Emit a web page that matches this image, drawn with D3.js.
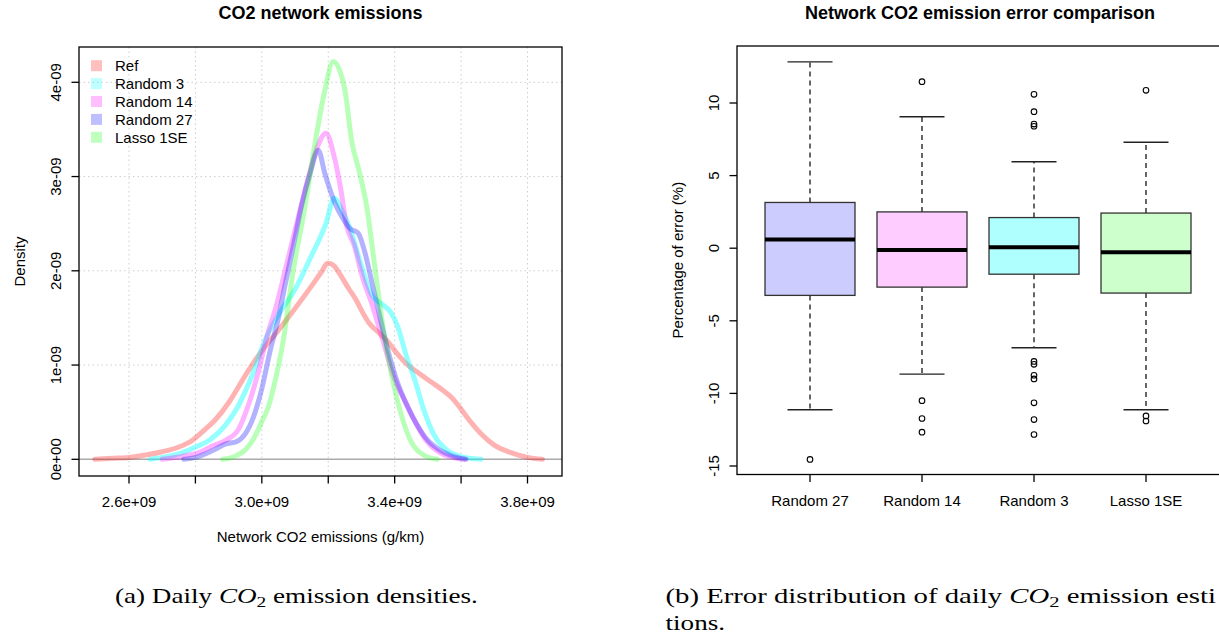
<!DOCTYPE html>
<html><head><meta charset="utf-8">
<script src="https://cdn.jsdelivr.net/npm/d3@7"></script>
<style>
body{margin:0;background:#fff}
svg{display:block}
text{font-family:"Liberation Sans",Arial,sans-serif;fill:#000}
</style>
</head><body>
<svg id="c" width="1219" height="639"></svg>
<script>
// ---------------- DATA ----------------
const seriesNames  = ["Ref", "Random 3", "Random 14", "Random 27", "Lasso 1SE"];
const seriesColors = ["#ff0000", "#00ffff", "#ff00ff", "#0000ff", "#00ff00"];
const seriesAlpha  = [0.3, 0.42, 0.3, 0.3, 0.28];

// density curves: [emissions (g/km), density]
const densRef = [[2.497e9,0],[2.55e9,0.01e-9],[2.60e9,0.02e-9],[2.65e9,0.045e-9],[2.70e9,0.08e-9],[2.75e9,0.13e-9],[2.79e9,0.20e-9],[2.83e9,0.32e-9],[2.86e9,0.42e-9],[2.90e9,0.60e-9],[2.94e9,0.83e-9],[2.97e9,1.00e-9],[3.00e9,1.15e-9],[3.05e9,1.37e-9],[3.10e9,1.60e-9],[3.15e9,1.84e-9],[3.18e9,1.99e-9],[3.198e9,2.08e-9],[3.215e9,2.06e-9],[3.234e9,1.97e-9],[3.26e9,1.82e-9],[3.284e9,1.69e-9],[3.30e9,1.58e-9],[3.324e9,1.44e-9],[3.35e9,1.35e-9],[3.374e9,1.27e-9],[3.415e9,1.09e-9],[3.44e9,1.00e-9],[3.474e9,0.91e-9],[3.51e9,0.82e-9],[3.544e9,0.735e-9],[3.57e9,0.66e-9],[3.594e9,0.56e-9],[3.615e9,0.46e-9],[3.635e9,0.37e-9],[3.66e9,0.27e-9],[3.70e9,0.15e-9],[3.75e9,0.07e-9],[3.80e9,0.02e-9],[3.845e9,0]];
const densRandom3 = [[2.664e9,0],[2.70e9,0.02e-9],[2.752e9,0.06e-9],[2.80e9,0.13e-9],[2.843e9,0.205e-9],[2.89e9,0.36e-9],[2.928e9,0.56e-9],[2.973e9,0.91e-9],[3.008e9,1.25e-9],[3.053e9,1.55e-9],[3.098e9,1.79e-9],[3.148e9,2.15e-9],[3.193e9,2.50e-9],[3.218e9,2.77e-9],[3.24e9,2.65e-9],[3.265e9,2.45e-9],[3.30e9,2.05e-9],[3.33e9,1.75e-9],[3.36e9,1.65e-9],[3.39e9,1.55e-9],[3.41e9,1.40e-9],[3.435e9,1.10e-9],[3.46e9,0.85e-9],[3.49e9,0.50e-9],[3.52e9,0.25e-9],[3.56e9,0.09e-9],[3.61e9,0.02e-9],[3.66e9,0]];
const densRandom14 = [[2.70e9,0],[2.76e9,0.03e-9],[2.81e9,0.07e-9],[2.85e9,0.14e-9],[2.893e9,0.205e-9],[2.93e9,0.32e-9],[2.958e9,0.56e-9],[2.988e9,0.91e-9],[3.013e9,1.27e-9],[3.043e9,1.62e-9],[3.068e9,1.97e-9],[3.093e9,2.33e-9],[3.118e9,2.68e-9],[3.143e9,3.03e-9],[3.168e9,3.32e-9],[3.193e9,3.46e-9],[3.218e9,3.21e-9],[3.238e9,2.86e-9],[3.254e9,2.50e-9],[3.28e9,2.25e-9],[3.30e9,1.97e-9],[3.334e9,1.62e-9],[3.364e9,1.27e-9],[3.394e9,0.91e-9],[3.439e9,0.56e-9],[3.494e9,0.205e-9],[3.554e9,0.04e-9],[3.61e9,0]];
const densRandom27 = [[2.765e9,0],[2.80e9,0.02e-9],[2.85e9,0.09e-9],[2.89e9,0.16e-9],[2.925e9,0.19e-9],[2.95e9,0.27e-9],[2.975e9,0.45e-9],[3.00e9,0.75e-9],[3.025e9,1.15e-9],[3.05e9,1.50e-9],[3.07e9,1.85e-9],[3.10e9,2.35e-9],[3.12e9,2.70e-9],[3.145e9,3.03e-9],[3.17e9,3.28e-9],[3.19e9,3.03e-9],[3.22e9,2.72e-9],[3.245e9,2.55e-9],[3.265e9,2.45e-9],[3.29e9,2.40e-9],[3.31e9,2.20e-9],[3.33e9,1.90e-9],[3.355e9,1.52e-9],[3.38e9,1.15e-9],[3.41e9,0.80e-9],[3.44e9,0.55e-9],[3.465e9,0.38e-9],[3.50e9,0.20e-9],[3.535e9,0.10e-9],[3.57e9,0.04e-9],[3.615e9,0]];
const densLasso = [[2.882e9,0],[2.918e9,0.03e-9],[2.95e9,0.10e-9],[2.973e9,0.205e-9],[3.00e9,0.40e-9],[3.02e9,0.56e-9],[3.045e9,0.91e-9],[3.065e9,1.27e-9],[3.093e9,1.97e-9],[3.13e9,2.68e-9],[3.162e9,3.39e-9],[3.19e9,3.92e-9],[3.215e9,4.22e-9],[3.25e9,3.92e-9],[3.27e9,3.39e-9],[3.295e9,3.03e-9],[3.315e9,2.70e-9],[3.34e9,2.05e-9],[3.365e9,1.40e-9],[3.385e9,1.00e-9],[3.41e9,0.60e-9],[3.445e9,0.22e-9],[3.49e9,0.04e-9],[3.528e9,0]];
const densities = [densRef, densRandom3, densRandom14, densRandom27, densLasso];

const densityXTicks  = [2.6e9, 2.8e9, 3.0e9, 3.2e9, 3.4e9, 3.6e9, 3.8e9];
const densityXLabels = ["2.6e+09", "", "3.0e+09", "", "3.4e+09", "", "3.8e+09"];
const densityYTicks  = [0, 1e-9, 2e-9, 3e-9, 4e-9];
const densityYLabels = ["0e+00", "1e-09", "2e-09", "3e-09", "4e-09"];

// boxplot of percentage errors
const boxCategories = ["Random 27", "Random 14", "Random 3", "Lasso 1SE"];
const boxFills      = ["#ccccff", "#ffccff", "#b0ffff", "#ccffcc"];
const whiskerLow    = [-11.13, -8.67, -6.86, -11.13];
const quartile1     = [-3.25, -2.68, -1.79, -3.09];
const medians       = [0.60, -0.12, 0.07, -0.28];
const quartile3     = [3.15, 2.50, 2.11, 2.42];
const whiskerHigh   = [12.83, 9.05, 5.95, 7.30];
const outliers = [
  [-14.55],
  [11.47, -10.50, -11.73, -12.67],
  [10.60, 9.40, 8.55, 8.40, -7.80, -8.00, -8.75, -9.00, -10.65, -11.80, -12.83],
  [10.87, -11.55, -11.90]
];
const errorTicks = [-15, -10, -5, 0, 5, 10];

// ---------------- DRAW ----------------
const svg = d3.select("#c");
svg.append("rect").attr("width",1219).attr("height",639).attr("fill","#fff");
const TL = 7.5; // tick length

// ===== Left panel: density =====
const L = {x0:79, x1:562, y0:47, y1:476};
const xD = d3.scaleLinear().domain([2.6e9, 3.8e9]).range([129, 527.5]);
const yD = d3.scaleLinear().domain([0, 4e-9]).range([459.3, 82.3]);

const gL = svg.append("g");
gL.selectAll(".gx").data(densityXTicks).join("line")
  .attr("x1",d=>xD(d)).attr("x2",d=>xD(d)).attr("y1",L.y0).attr("y2",L.y1)
  .attr("stroke","#cfcfcf").attr("stroke-width",1).attr("stroke-dasharray","1.5,3");
gL.selectAll(".gy").data(densityYTicks).join("line")
  .attr("x1",L.x0).attr("x2",L.x1).attr("y1",d=>yD(d)).attr("y2",d=>yD(d))
  .attr("stroke","#cfcfcf").attr("stroke-width",1).attr("stroke-dasharray","1.5,3");
gL.append("line").attr("x1",L.x0).attr("x2",L.x1).attr("y1",yD(0)).attr("y2",yD(0))
  .attr("stroke","#ababab").attr("stroke-width",1.5);

const lineGen = d3.line().x(d=>xD(d[0])).y(d=>yD(d[1])).curve(d3.curveMonotoneX);
densities.forEach((dat,i)=>{
  gL.append("path").attr("d",lineGen(dat)).attr("fill","none")
    .attr("stroke",seriesColors[i]).attr("stroke-opacity",seriesAlpha[i])
    .attr("stroke-width",5).attr("stroke-linejoin","round").attr("stroke-linecap","round");
});

gL.append("rect").attr("x",L.x0).attr("y",L.y0).attr("width",L.x1-L.x0).attr("height",L.y1-L.y0)
  .attr("fill","none").attr("stroke","#000").attr("stroke-width",1.3);

gL.selectAll(".tx").data(densityXTicks).join("line")
  .attr("x1",d=>xD(d)).attr("x2",d=>xD(d)).attr("y1",L.y1).attr("y2",L.y1+TL)
  .attr("stroke","#000").attr("stroke-width",1.3);
gL.selectAll(".lx").data(densityXTicks).join("text")
  .attr("x",d=>xD(d)).attr("y",L.y1+31).attr("text-anchor","middle").attr("font-size",15)
  .text((d,i)=>densityXLabels[i]);
gL.selectAll(".ty").data(densityYTicks).join("line")
  .attr("x1",L.x0-TL).attr("x2",L.x0).attr("y1",d=>yD(d)).attr("y2",d=>yD(d))
  .attr("stroke","#000").attr("stroke-width",1.3);
gL.selectAll(".ly").data(densityYTicks).join("text")
  .attr("transform",d=>`translate(${L.x0-18},${yD(d)}) rotate(-90)`)
  .attr("text-anchor","middle").attr("font-size",15)
  .text((d,i)=>densityYLabels[i]);
gL.append("text").attr("x",(L.x0+L.x1)/2).attr("y",19).attr("text-anchor","middle")
  .attr("font-size",18).attr("font-weight","bold").text("CO2 network emissions");
gL.append("text").attr("x",(L.x0+L.x1)/2).attr("y",542).attr("text-anchor","middle")
  .attr("font-size",15).text("Network CO2 emissions (g/km)");
gL.append("text").attr("transform",`translate(${L.x0-54},${(L.y0+L.y1)/2}) rotate(-90)`)
  .attr("text-anchor","middle").attr("font-size",15).text("Density");

const leg = gL.append("g");
seriesNames.forEach((n,i)=>{
  const cy = 65.7 + i*17.9;
  leg.append("rect").attr("x",91).attr("y",cy-5.5).attr("width",11).attr("height",11)
    .attr("fill",seriesColors[i]).attr("fill-opacity",0.25);
  leg.append("text").attr("x",115).attr("y",cy).attr("dy","0.36em").attr("font-size",15).text(n);
});

// ===== Right panel: boxplot =====
const R = {x0:737, x1:1221.5, y0:46, y1:474.5};
const yE = d3.scaleLinear().domain([-15, 10]).range([466, 103]);
const xE = d3.scalePoint().domain(boxCategories).range([810, 1146]);
const half = 45, stapleHalf = 22.5;

const gR = svg.append("g");
boxCategories.forEach((c,i)=>{
  const cx = xE(c);
  gR.append("line").attr("x1",cx).attr("x2",cx).attr("y1",yE(quartile3[i])).attr("y2",yE(whiskerHigh[i]))
    .attr("stroke","#000").attr("stroke-width",1.2).attr("stroke-dasharray","5,4");
  gR.append("line").attr("x1",cx).attr("x2",cx).attr("y1",yE(quartile1[i])).attr("y2",yE(whiskerLow[i]))
    .attr("stroke","#000").attr("stroke-width",1.2).attr("stroke-dasharray","5,4");
  [whiskerHigh[i], whiskerLow[i]].forEach(v=>{
    gR.append("line").attr("x1",cx-stapleHalf).attr("x2",cx+stapleHalf).attr("y1",yE(v)).attr("y2",yE(v))
      .attr("stroke","#222").attr("stroke-width",1.4);
  });
  gR.append("rect").attr("x",cx-half).attr("width",2*half)
    .attr("y",yE(quartile3[i])).attr("height",yE(quartile1[i])-yE(quartile3[i]))
    .attr("fill",boxFills[i]).attr("stroke","#333").attr("stroke-width",1.3);
  gR.append("line").attr("x1",cx-half).attr("x2",cx+half).attr("y1",yE(medians[i])).attr("y2",yE(medians[i]))
    .attr("stroke","#000").attr("stroke-width",4);
  gR.selectAll(null).data(outliers[i]).join("circle")
    .attr("cx",cx).attr("cy",d=>yE(d)).attr("r",2.8)
    .attr("fill","none").attr("stroke","#000").attr("stroke-width",1.1);
});
gR.append("rect").attr("x",R.x0).attr("y",R.y0).attr("width",R.x1-R.x0).attr("height",R.y1-R.y0)
  .attr("fill","none").attr("stroke","#000").attr("stroke-width",1.3);
gR.selectAll(".ty").data(errorTicks).join("line")
  .attr("x1",R.x0-TL).attr("x2",R.x0).attr("y1",d=>yE(d)).attr("y2",d=>yE(d))
  .attr("stroke","#000").attr("stroke-width",1.3);
gR.selectAll(".ly").data(errorTicks).join("text")
  .attr("transform",d=>`translate(${R.x0-18},${yE(d)}) rotate(-90)`)
  .attr("text-anchor","middle").attr("font-size",15).text(d=>d);
gR.selectAll(".tx").data(boxCategories).join("line")
  .attr("x1",d=>xE(d)).attr("x2",d=>xE(d)).attr("y1",R.y1).attr("y2",R.y1+TL)
  .attr("stroke","#000").attr("stroke-width",1.3);
gR.selectAll(".lx").data(boxCategories).join("text")
  .attr("x",d=>xE(d)).attr("y",R.y1+31).attr("text-anchor","middle").attr("font-size",15).text(d=>d);
gR.append("text").attr("x",980).attr("y",19).attr("text-anchor","middle")
  .attr("font-size",18).attr("font-weight","bold").text("Network CO2 emission error comparison");
gR.append("text").attr("transform",`translate(${R.x0-54},${(R.y0+R.y1)/2}) rotate(-90)`)
  .attr("text-anchor","middle").attr("font-size",15).text("Percentage of error (%)");

// ===== Captions =====
function caption(x, y, pre, post){
  const t = svg.append("text").attr("font-size",21).attr("x",0).attr("y",0)
    .style("font-family","'Liberation Serif','Times New Roman',serif");
  t.append("tspan").text(pre);
  if (post !== null){
    t.append("tspan").attr("font-style","italic").text("CO");
    t.append("tspan").attr("font-size",15).attr("dy",4).text("2");
    t.append("tspan").attr("dy",-4).text(post);
  }
  t.attr("transform",`translate(${x},${y})`);
  return t;
}
const capA = caption(115, 603, "(a) Daily ", " emission densities.");
const sx = 363 / capA.node().getBBox().width;
capA.attr("transform",`translate(115,603) scale(${sx},1)`);
// first line of caption (b) is justified in the source and runs past the right edge; show its visible part
const capB1 = caption(665.5, 603, "(b) Error distribution of daily ", " emission esti");
const sxB = 551 / capB1.node().getBBox().width;
capB1.attr("transform",`translate(665.5,603) scale(${sxB},1)`);
const capB2 = caption(665.5, 630, "tions.", null);
capB2.attr("transform",`translate(665.5,630) scale(${sx},1)`);
</script>
</body></html>
